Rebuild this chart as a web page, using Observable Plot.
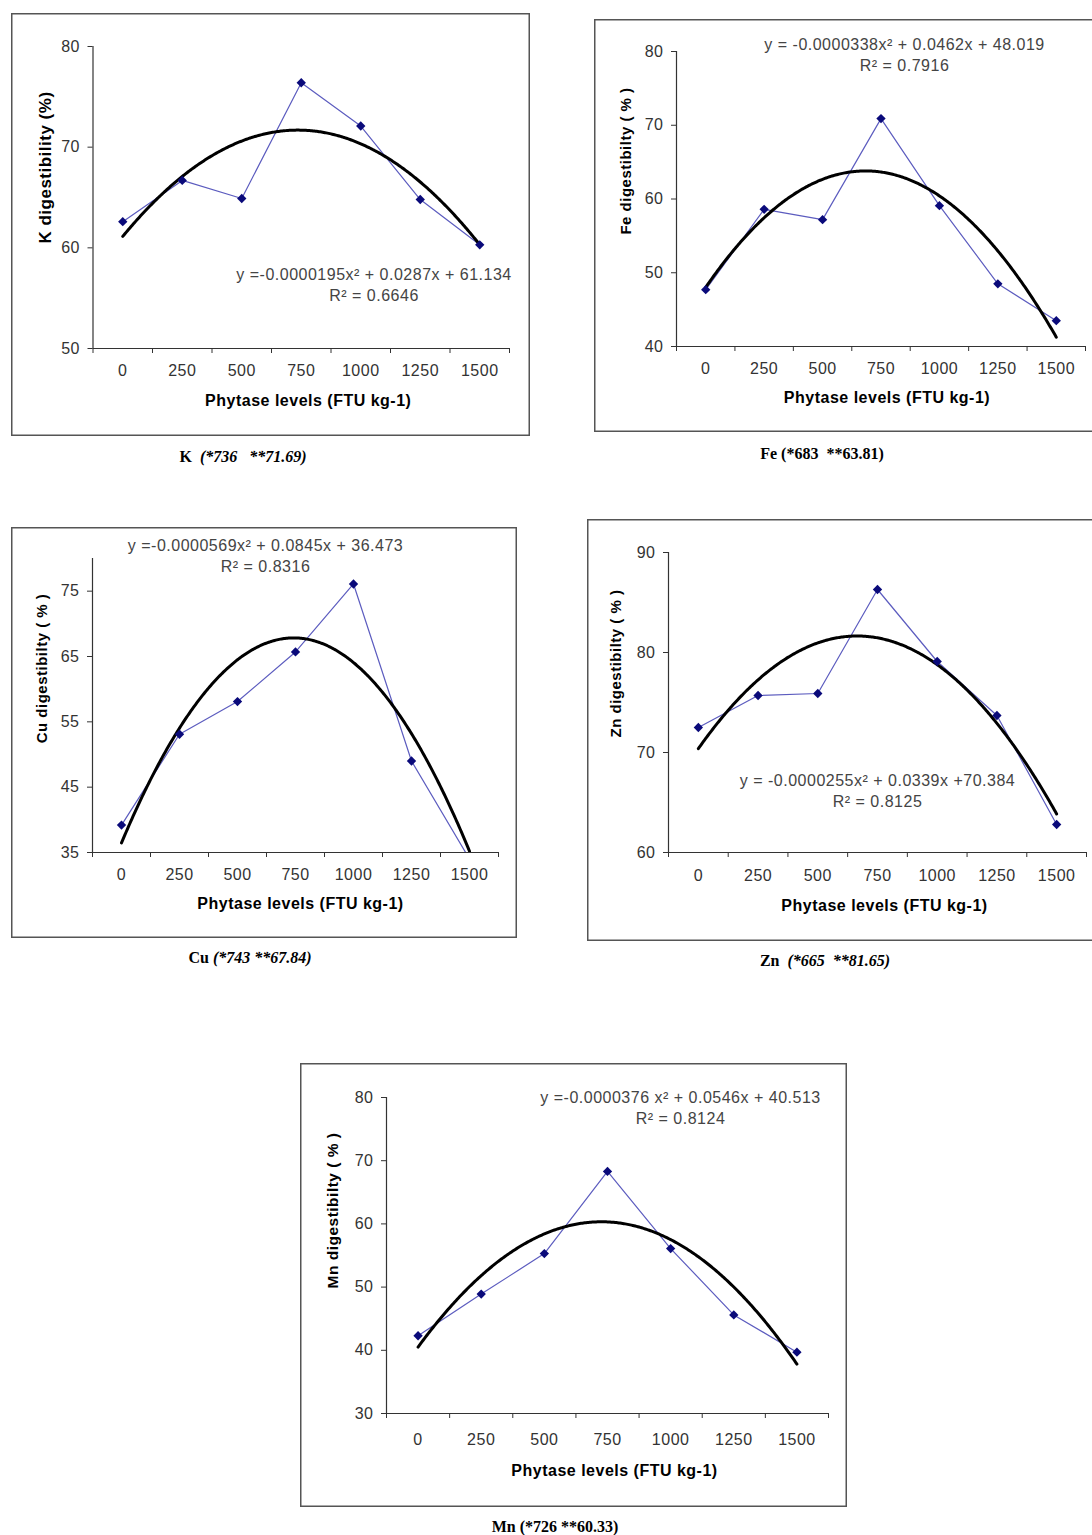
<!DOCTYPE html>
<html><head><meta charset="utf-8">
<script src="https://cdn.jsdelivr.net/npm/d3@7"></script>
<script src="https://cdn.jsdelivr.net/npm/@observablehq/plot@0.6"></script>
<style>
html,body{margin:0;padding:0;background:#fff;}
body{width:1092px;height:1535px;position:relative;overflow:hidden;font-family:"Liberation Sans",Arial,sans-serif;}
.panel{position:absolute;box-shadow:inset 0 0 0 1.5px #555;}
.panel svg{position:absolute;left:0;top:0;}
.cap{position:absolute;font-family:"Liberation Serif","Times New Roman",serif;font-weight:bold;font-size:16px;white-space:pre;transform:translate(-50%,-50%);color:#000;}
</style></head><body>
<script>
// ---- data ----
const levels = [0, 250, 500, 750, 1000, 1250, 1500];
const xBoundaries = [-125, 125, 375, 625, 875, 1125, 1375, 1625];

const kValues  = [62.6, 66.7, 64.9, 76.4, 72.1, 64.8, 60.3];
const feValues = [47.7, 58.6, 57.2, 70.9, 59.1, 48.5, 43.5];
const cuValues = [39.2, 53.1, 58.1, 65.7, 76.1, 49.0, 34.0];
const znValues = [72.5, 75.7, 75.9, 86.3, 79.1, 73.7, 62.8];
const mnValues = [42.3, 48.9, 55.3, 68.3, 56.1, 45.6, 39.7];

// quadratic trendline coefficients printed on the chart [a, b, c]
const kFit  = [-0.0000195, 0.0287, 61.134];
const feFit = [-0.0000338, 0.0462, 48.019];
const cuFit = [-0.0000569, 0.0845, 36.473];
const znFit = [-0.0000255, 0.0339, 70.384];
const mnFit = [-0.0000376, 0.0546, 40.513];

const kTicks  = [50, 60, 70, 80];
const feTicks = [40, 50, 60, 70, 80];
const cuTicks = [35, 45, 55, 65, 75];
const znTicks = [60, 70, 80, 90];
const mnTicks = [30, 40, 50, 60, 70, 80];

const xTitle = "Phytase levels (FTU kg-1)";
const yTitles = ["K digestibility (%)", "Fe digestibilty ( % )", "Cu digestibilty ( % )", "Zn digestibilty ( % )", "Mn digestibilty ( % )"];
const equations = ["y =-0.0000195x² + 0.0287x + 61.134", "y = -0.0000338x² + 0.0462x + 48.019", "y =-0.0000569x² + 0.0845x + 36.473", "y = -0.0000255x² + 0.0339x +70.384", "y =-0.0000376 x² + 0.0546x + 40.513"];
const rSquared = ["R² = 0.6646", "R² = 0.7916", "R² = 0.8316", "R² = 0.8125", "R² = 0.8124"];
const capElements = ["K", "Fe", "Cu", "Zn", "Mn"];
const capNotes = ["  (*736   **71.69)", " (*683  **63.81)", " (*743 **67.84)", "  (*665  **81.65)", " (*726 **60.33)"];

// ---- layout ----
const panels = [
  {values:kValues, fit:kFit, ticks:kTicks, dom:[50,80], box:[11,13,519,423], m:[33,21,88,81.5], eq:[281,228], ylab:[-47.5,-30,17], xlab:[7,52], tp:16, cap:[243,457], ital:true},
  {values:feValues, fit:feFit, ticks:feTicks, dom:[40,80], box:[594,19,502,413], m:[32,11,86,82], eq:[228,-7], ylab:[-50,-38,15], xlab:[6,51], tp:16, cap:[822,454], ital:false},
  {values:cuValues, fit:cuFit, ticks:cuTicks, dom:[35,80], box:[11,527,506,411], m:[31,19,86,81], eq:[173,-13], ylab:[-50,-37,15], xlab:[5,51], tp:16, cap:[250,958], ital:true},
  {values:znValues, fit:znFit, ticks:znTicks, dom:[60,90], box:[587,519,509,422], m:[33,10,89,81], eq:[209,228], ylab:[-52,-39,15], xlab:[7,53], tp:17, cap:[825,961], ital:true},
  {values:mnValues, fit:mnFit, ticks:mnTicks, dom:[30,80], box:[300,1063,547,444], m:[34,19,94,86], eq:[294,0], ylab:[-53,-45,15.5], xlab:[7,57], tp:20, cap:[555,1527], ital:false}
];

const diamond = d3.symbolDiamond2 || d3.symbolDiamond;

panels.forEach((p, i) => {
  const pts = levels.map((x, j) => ({x, y: p.values[j]}));
  const fitX = d3.range(0, 1501, 5);
  const fitPts = fitX.map(x => ({x, y: p.fit[0]*x*x + p.fit[1]*x + p.fit[2]}));
  const [mt, mr, mb, ml] = p.m;
  const chart = Plot.plot({
    width: p.box[2], height: p.box[3],
    marginTop: mt, marginRight: mr, marginBottom: mb, marginLeft: ml,
    x: {domain: [-125, 1625], label: null},
    y: {domain: p.dom, label: null},
    style: {background: "transparent", fontFamily: "'Liberation Sans', Arial, sans-serif", fontSize: "16px", color: "#333", letterSpacing: "0.5px", overflow: "visible"},
    marks: [
      Plot.ruleY([p.dom[0]], {stroke: "#333", strokeWidth: 1.2}),
      Plot.ruleX([-125], {stroke: "#333", strokeWidth: 1.2}),
      Plot.axisX({ticks: xBoundaries, tickSize: 5, tickFormat: () => "", label: null, stroke: "#333"}),
      Plot.axisX({ticks: levels, tickSize: 0, tickPadding: p.tp, tickFormat: d => String(d), label: null, fill: "#333", fontSize: 16}),
      Plot.axisY({ticks: p.ticks, tickSize: 5, tickPadding: 8, label: null, stroke: "#333", fill: "#333", fontSize: 16}),
      Plot.line(pts, {x: "x", y: "y", stroke: "#5c5cbf", strokeWidth: 1.2, clip: true}),
      Plot.line(fitPts, {x: "x", y: "y", stroke: "#000", strokeWidth: 3, clip: true}),
      Plot.dot(pts, {x: "x", y: "y", symbol: diamond, r: 4.2, fill: "#0a0a7a", stroke: "none", clip: true}),
      Plot.text([equations[i]], {frameAnchor: "top-left", dx: p.eq[0], dy: p.eq[1], textAnchor: "middle", lineAnchor: "middle", fontSize: 16, fill: "#444"}),
      Plot.text([rSquared[i]], {frameAnchor: "top-left", dx: p.eq[0], dy: p.eq[1] + 21, textAnchor: "middle", lineAnchor: "middle", fontSize: 16, fill: "#444"}),
      Plot.text([yTitles[i]], {frameAnchor: "left", rotate: -90, dx: p.ylab[0], dy: p.ylab[1], textAnchor: "middle", lineAnchor: "middle", fontSize: p.ylab[2], fontWeight: "bold", fill: "#000"}),
      Plot.text([xTitle], {frameAnchor: "bottom", dx: p.xlab[0], dy: p.xlab[1], textAnchor: "middle", lineAnchor: "middle", fontSize: 16, fontWeight: "bold", fill: "#000"})
    ]
  });
  const div = document.createElement("div");
  div.className = "panel";
  Object.assign(div.style, {left: p.box[0] + "px", top: p.box[1] + "px", width: p.box[2] + "px", height: p.box[3] + "px"});
  div.appendChild(chart);
  document.body.appendChild(div);

  const cap = document.createElement("div");
  cap.className = "cap";
  cap.style.left = p.cap[0] + "px";
  cap.style.top = p.cap[1] + "px";
  const b = document.createElement("span");
  b.textContent = capElements[i];
  const n = document.createElement("span");
  n.textContent = capNotes[i];
  if (p.ital) n.style.fontStyle = "italic";
  cap.appendChild(b); cap.appendChild(n);
  document.body.appendChild(cap);
});
</script>
</body></html>
